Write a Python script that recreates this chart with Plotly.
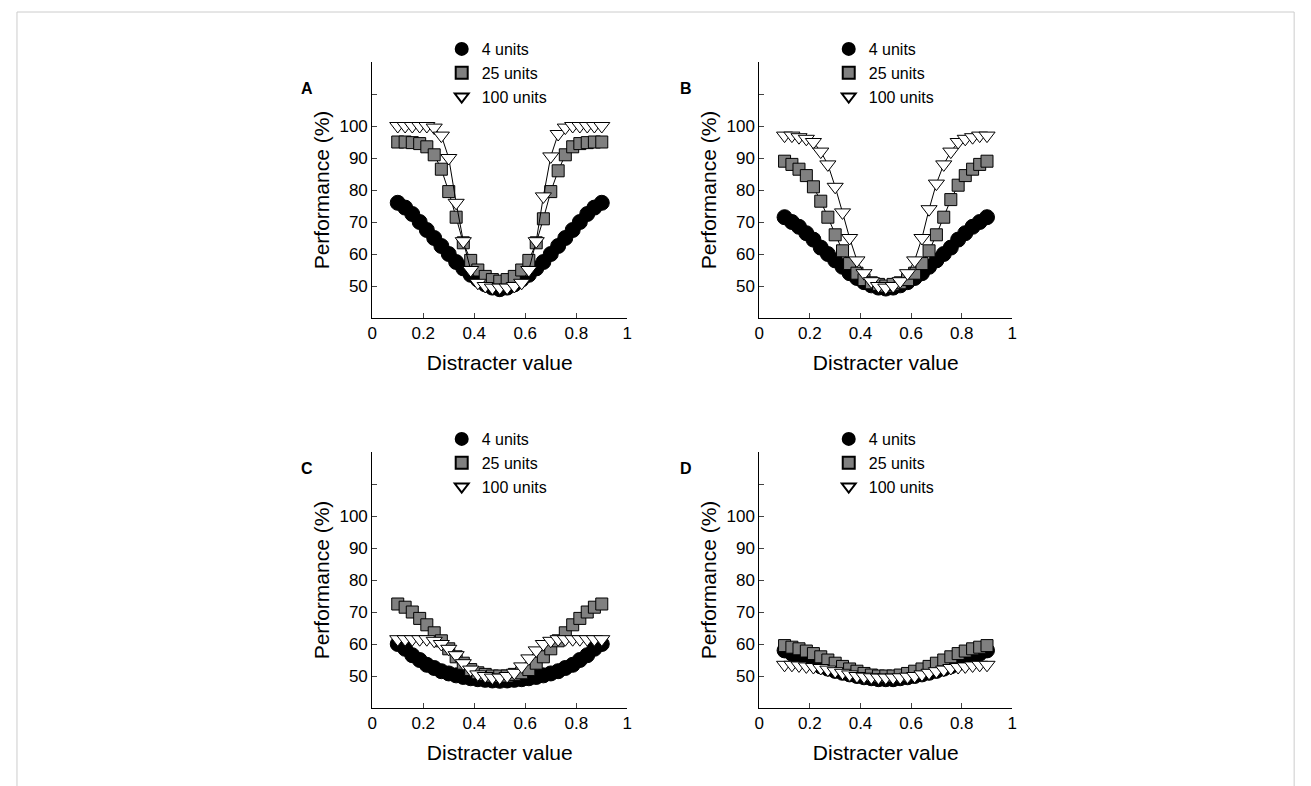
import plotly.graph_objects as go

# distracter values (29 per series)
x_vals = [0.1, 0.129, 0.157, 0.186, 0.214, 0.243, 0.271, 0.3, 0.329, 0.357, 0.386, 0.414, 0.443, 0.471, 0.5,
          0.529, 0.557, 0.586, 0.614, 0.643, 0.671, 0.7, 0.729, 0.757, 0.786, 0.814, 0.843, 0.871, 0.9]

a_4 = [76, 74.5, 72.5, 70, 67.5, 65, 62.5, 60, 57.5, 55.5, 53.5, 52, 50.5, 49.5, 49,
       49.5, 50.5, 52, 53.5, 55.5, 57.5, 60, 62.5, 65, 67.5, 70, 72.5, 74.5, 76]
a_25 = [95, 95, 94.8, 94.5, 93.5, 91, 86.5, 79.5, 71.5, 63.5, 58, 55, 53, 52, 51.5,
        52, 53, 55, 58, 63.5, 71, 79.5, 86, 91, 93.5, 94.5, 94.8, 95, 95]
a_100 = [100, 100, 100, 100, 100, 99.5, 97, 90, 76, 64, 55, 51, 50, 49.5, 49.5,
         49.5, 50, 51, 55, 64, 78, 90.5, 97.5, 99.5, 100, 100, 100, 100, 100]

b_4 = [71.5, 70, 68.5, 66.5, 64.5, 62, 60, 58, 56, 54, 52.5, 51.2, 50.2, 49.5, 49.2,
       49.5, 50.2, 51.2, 52.5, 54, 56, 58, 60, 62, 64.5, 66.5, 68.5, 70, 71.5]
b_25 = [89, 88, 86.5, 84.5, 81, 76.5, 71.5, 66, 61, 57, 54, 52, 51, 50.5, 50,
        50.5, 51, 52, 54, 57, 61, 66, 71.5, 77, 81.5, 84.5, 86.5, 88, 89]
b_100 = [97, 97, 96.5, 96, 95, 92, 88, 81, 73, 65, 58, 54, 51.5, 50, 49.5,
         50, 51.5, 54, 58, 65, 74, 82, 88, 92, 95, 96, 96.5, 97, 97]

c_4 = [60, 58.5, 56.5, 55, 53.5, 52.5, 51.5, 50.8, 50.2, 49.7, 49.3, 49, 48.8, 48.6, 48.5,
       48.6, 48.8, 49, 49.3, 49.7, 50.2, 50.8, 51.5, 52.5, 53.5, 55, 56.5, 58.5, 60]
c_25 = [72.5, 71.5, 70, 68, 66, 63.5, 61, 58.5, 56, 54, 52, 51, 50.5, 50, 50,
        50, 50.5, 51, 52, 54, 56, 58.5, 61, 63.5, 66, 68, 70, 71.5, 72.5]
c_100 = [61.5, 61.5, 61.5, 61.5, 61.5, 61, 60, 58.5, 56.5, 54, 52, 50.5, 50, 49.5, 49.5,
         50, 51, 53, 55.5, 58, 60, 61, 61.5, 61.5, 61.5, 61.5, 61.5, 61.5, 61.5]

d_4 = [58, 57, 56, 55, 54, 53, 52.3, 51.6, 51, 50.5, 50, 49.6, 49.3, 49, 49,
       49, 49.3, 49.6, 50, 50.5, 51, 51.6, 52.3, 53, 54, 55, 56, 57, 58]
d_25 = [59.5, 59, 58.5, 57.8, 57, 56, 55, 54, 53, 52.2, 51.5, 50.8, 50.3, 50, 50,
        50, 50.3, 50.8, 51.5, 52.2, 53, 54, 55, 56, 57, 57.8, 58.5, 59, 59.5]
d_100 = [53.5, 53.5, 53.3, 53, 52.8, 52.5, 52, 51.5, 51, 50.5, 50, 49.8, 49.6, 49.5, 49.5,
         49.5, 49.6, 49.8, 50, 50.5, 51, 51.5, 52, 52.5, 52.8, 53, 53.3, 53.5, 53.5]

panels = {"A": (a_4, a_25, a_100), "B": (b_4, b_25, b_100),
          "C": (c_4, c_25, c_100), "D": (d_4, d_25, d_100)}
series_names = ["4 units", "25 units", "100 units"]
y_ticks = [40, 50, 60, 70, 80, 90, 100, 110, 120]
y_ticklabels = ["", "50", "60", "70", "80", "90", "100", "", ""]
x_ticks = [0, 0.2, 0.4, 0.6, 0.8, 1]
x_ticklabels = ["0", "0.2", "0.4", "0.6", "0.8", "1"]

W, H = 1311, 786
OFF = 8  # page offset seen in the render
styles = [
    dict(symbol="circle", size=15, color="black", line=dict(color="black", width=1)),
    dict(symbol="square", size=12, color="#808080", line=dict(color="black", width=1)),
    dict(symbol="triangle-down", size=14, color="white", line=dict(color="black", width=1)),
]

# pixel boxes of each axis: x0, x1, ytop, ybottom
boxes = {"A": (370, 627, 62, 318), "B": (760, 1015, 62, 318),
         "C": (370, 627, 452, 708), "D": (760, 1015, 452, 708)}


def px(v):
    return (v - OFF) / W


def py(v):
    return 1 - (v - OFF) / H


fig = go.Figure()
for i, (name, data) in enumerate(panels.items()):
    k = "" if i == 0 else str(i + 1)
    x0, x1, yt, yb = boxes[name]
    for j, ys in enumerate(data):
        fig.add_trace(go.Scatter(
            x=x_vals, y=ys, mode="lines+markers", showlegend=False,
            line=dict(color="black", width=1), marker=styles[j],
            xaxis="x" + k, yaxis="y" + k))
        # legend entry with marker only
        fig.add_trace(go.Scatter(
            x=[None], y=[None], mode="markers", name=series_names[j], marker=styles[j],
            xaxis="x" + k, yaxis="y" + k, legend="legend" + k))
    fig.update_layout({
        "xaxis" + k: dict(domain=[px(x0), px(x1)], range=[0, 1], anchor="y" + k,
                          tickvals=x_ticks, ticktext=x_ticklabels, ticks="inside", ticklen=5,
                          showline=True, linecolor="black", showgrid=False, zeroline=False,
                          tickfont=dict(size=17), title=dict(text="Distracter value", font=dict(size=21),
                                                             standoff=12)),
        "yaxis" + k: dict(domain=[py(yb), py(yt)], range=[40, 120], anchor="x" + k,
                          tickvals=y_ticks, ticktext=y_ticklabels, ticks="inside", ticklen=5,
                          showline=True, linecolor="black", showgrid=False, zeroline=False,
                          tickfont=dict(size=17), title=dict(text="Performance (%)", font=dict(size=21),
                                                             standoff=4)),
        "legend" + k: dict(x=px(x0 + 70), y=py(yt - 30), xanchor="left", yanchor="top",
                           bgcolor="rgba(0,0,0,0)", font=dict(size=16), tracegroupgap=0,
                           itemsizing="constant", itemwidth=30),
    })
    fig.add_annotation(text="<b>" + name + "</b>", x=px(x0 - 74), y=py(yt + 16),
                       xref="paper", yref="paper", showarrow=False, font=dict(size=16))

fig.add_shape(type="rect", xref="paper", yref="paper", x0=px(12), x1=px(1299), y0=-0.05, y1=py(12),
              line=dict(color="#cccccc", width=1))
fig.update_layout(width=W, height=H, margin=dict(l=0, r=0, t=0, b=0),
                  paper_bgcolor="white", plot_bgcolor="white",
                  font=dict(family="Liberation Sans, Arial", color="black"))
fig.write_html("out.html")
